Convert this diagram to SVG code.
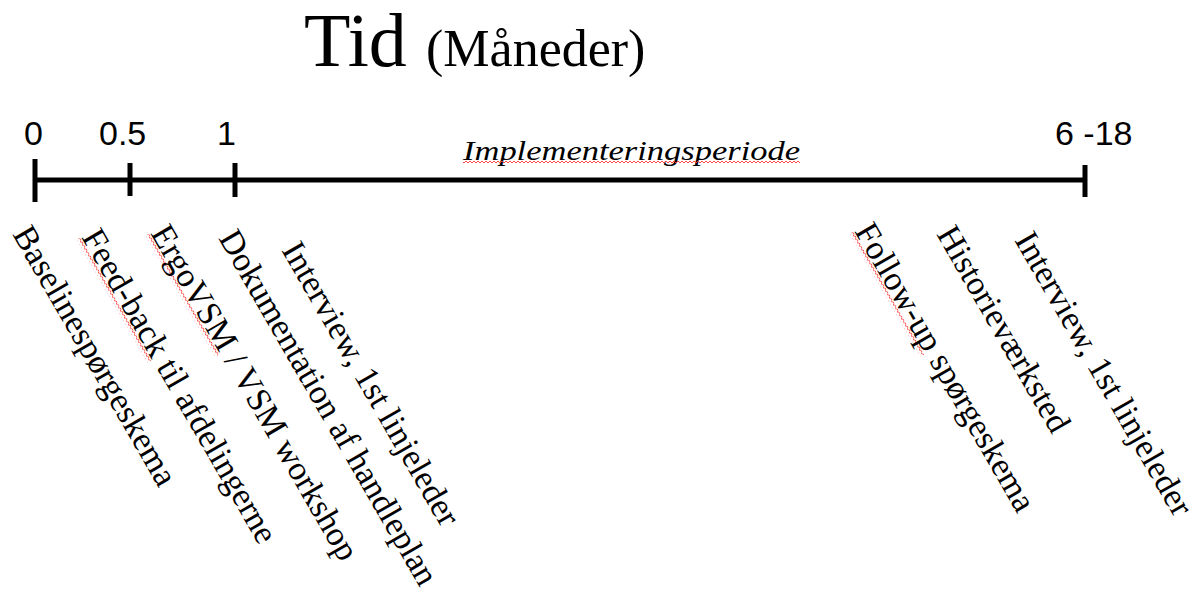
<svg xmlns="http://www.w3.org/2000/svg" width="1199" height="598" viewBox="0 0 1199 598">
  <style>
    .title { font-family: "Liberation Serif", "Times New Roman", serif; fill: #000; }
    .tick-label { font-family: "Liberation Sans", Arial, sans-serif; font-size: 34px; fill: #000; }
    .period { font-family: "Liberation Serif", "Times New Roman", serif; font-style: italic; font-size: 28px; fill: #000; }
    .label { font-family: "Liberation Serif", "Times New Roman", serif; font-size: 34px; fill: #000; }
    .axis { stroke: #000; stroke-width: 5; fill: none; }
    .squiggle { fill: url(#wave); }
  </style>
  <defs>
    <pattern id="wave" patternUnits="userSpaceOnUse" x="0" y="0" width="4" height="4">
      <path d="M0,3 L2,1 L4,3" fill="none" stroke="#ff3030" stroke-width="0.9"/>
    </pattern>
  </defs>

  <g id="title">
    <text class="title" x="304" y="66" font-size="76">Tid</text>
    <text class="title" x="426" y="66" font-size="52">(Måneder)</text>
  </g>

  <g id="connectors">
    <line class="axis" x1="35" y1="180" x2="1085" y2="180"/>
    <line class="axis" x1="35" y1="159" x2="35" y2="202"/>
    <line class="axis" x1="130" y1="163" x2="130" y2="196"/>
    <line class="axis" x1="235" y1="163" x2="235" y2="197"/>
    <line class="axis" x1="1085" y1="165" x2="1085" y2="197"/>
  </g>

  <g id="tick-labels">
    <text class="tick-label" x="24" y="145">0</text>
    <text class="tick-label" x="99" y="145">0.5</text>
    <text class="tick-label" x="217" y="145">1</text>
    <text class="tick-label" x="1055" y="145">6 -18</text>
  </g>

  <g id="period">
    <text class="period" x="463" y="160" textLength="337" lengthAdjust="spacingAndGlyphs">Implementeringsperiode</text>
    <rect class="squiggle" x="463" y="161" width="337" height="4"/>
  </g>

  <g id="label-baseline" transform="translate(12,234) rotate(60)">
    <text class="label" x="0" y="0">Baselinespørgeskema</text>
  </g>
  <g id="label-feedback" transform="translate(81,237) rotate(60)">
    <rect class="squiggle" x="0" y="1" width="142" height="4"/>
    <text class="label" x="0" y="0">Feed-back til afdelingerne</text>
  </g>
  <g id="label-ergovsm" transform="translate(150,233) rotate(60)">
    <rect class="squiggle" x="0" y="1" width="140" height="4"/>
    <text class="label" x="0" y="0">ErgoVSM / VSM workshop</text>
  </g>
  <g id="label-dokumentation" transform="translate(218,238) rotate(60)">
    <text class="label" x="0" y="0">Dokumentation af handleplan</text>
  </g>
  <g id="label-interview1" transform="translate(281,250) rotate(60)">
    <text class="label" x="0" y="0">Interview, 1st linjeleder</text>
  </g>
  <g id="label-followup" transform="translate(854,231) rotate(60)">
    <rect class="squiggle" x="0" y="1" width="142" height="4"/>
    <text class="label" x="0" y="0">Follow-up spørgeskema</text>
  </g>
  <g id="label-historie" transform="translate(936,234) rotate(60)">
    <text class="label" x="0" y="0">Historieværksted</text>
  </g>
  <g id="label-interview2" transform="translate(1014,240) rotate(60)">
    <text class="label" x="0" y="0">Interview, 1st linjeleder</text>
  </g>
</svg>
